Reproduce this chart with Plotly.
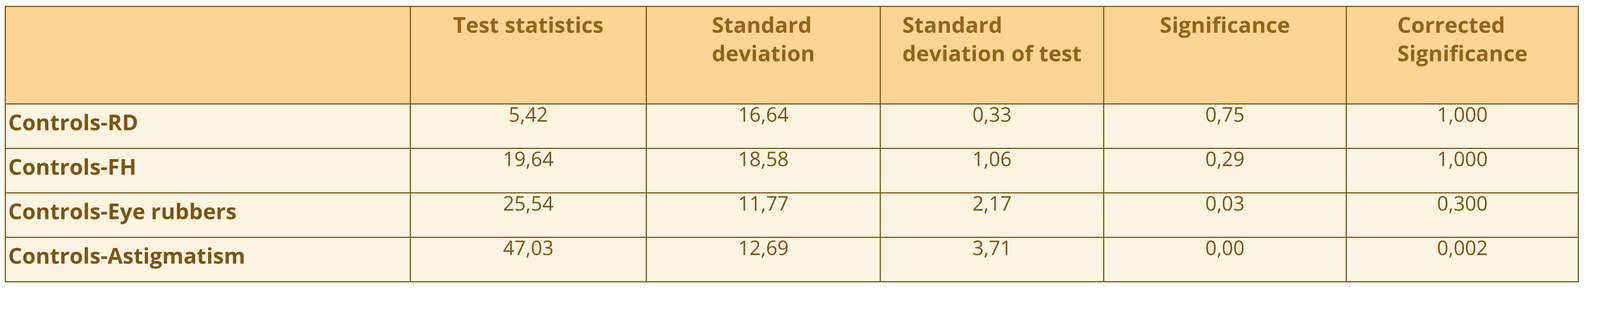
import plotly.graph_objects as go

comparisons = ["Controls-RD", "Controls-FH", "Controls-Eye rubbers", "Controls-Astigmatism"]
headers = ["", "<br>Test statistics", "Standard<br>deviation", "Standard<br>deviation of test",
           "<br>Significance", "Corrected<br>Significance"]
test_stat = ["5,42", "19,64", "25,54", "47,03"]
std_dev = ["16,64", "18,58", "11,77", "12,69"]
std_dev_test = ["0,33", "1,06", "2,17", "3,71"]
significance = ["0,75", "0,29", "0,03", "0,00"]
corrected = ["1,000", "1,000", "0,300", "0,002"]

border = "#7b5a1c"
font_name = "Liberation Sans Narrow, Open Sans, sans-serif"

fig = go.Figure(go.Table(
    domain=dict(x=[5 / 4377, 4033 / 4377], y=[1 - 740 / 800, 1 - 8 / 800]),
    columnwidth=[1120, 653, 647, 617, 671, 642],
    header=dict(
        values=["<b>%s</b>" % h for h in headers],
        fill_color="#fcd595",
        line=dict(color=border, width=3),
        align="center",
        height=250,
        font=dict(family=font_name, size=56, color="#93641a"),
    ),
    cells=dict(
        values=[["<b>%s</b>" % c for c in comparisons], test_stat, std_dev,
                std_dev_test, significance, corrected],
        fill_color="#fdf3e1",
        line=dict(color=border, width=3),
        align=["left", "center"],
        height=114,
        font=dict(family=font_name, size=[56, 51], color="#7a5516"),
    ),
))

fig.update_layout(width=4377, height=800, margin=dict(l=0, r=0, t=0, b=0),
                  paper_bgcolor="white")

fig.write_html("out.html")
